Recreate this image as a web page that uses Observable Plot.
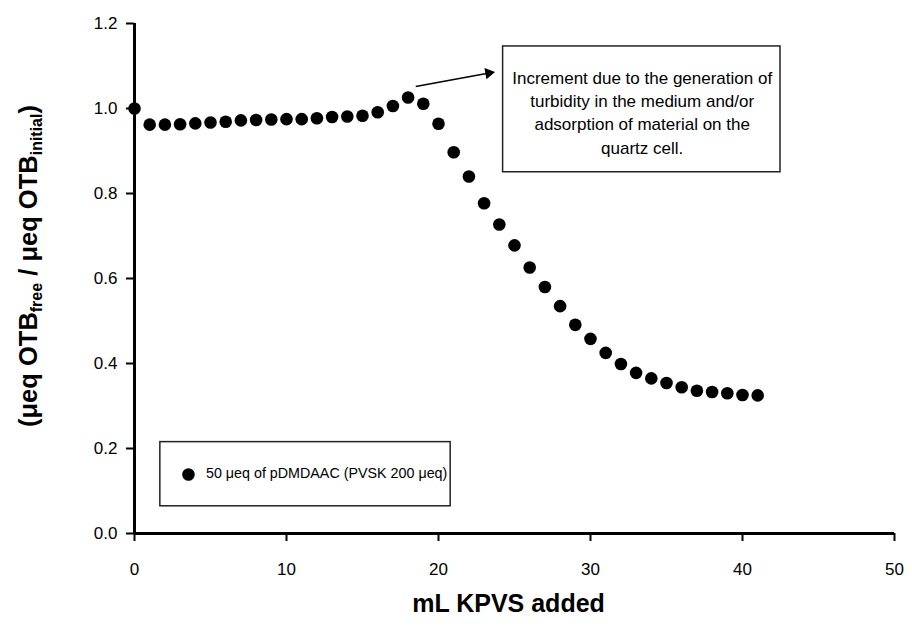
<!DOCTYPE html>
<html>
<head>
<meta charset="utf-8">
<script src="https://cdn.jsdelivr.net/npm/d3@7"></script>
<script src="https://cdn.jsdelivr.net/npm/@observablehq/plot@0.6"></script>
<style>
  html, body { margin: 0; padding: 0; background: #fff; }
  #chart { width: 912px; height: 628px; }
</style>
</head>
<body>
<div id="chart"></div>
<script>
// ---- data ----
const kpvsAdded = [0,1,2,3,4,5,6,7,8,9,10,11,12,13,14,15,16,17,18,19,20,21,22,23,24,25,26,27,28,29,30,31,32,33,34,35,36,37,38,39,40,41];
const otbRatio = [1.000,0.962,0.962,0.963,0.965,0.967,0.969,0.972,0.973,0.974,0.975,0.975,0.977,0.980,0.981,0.983,0.991,1.006,1.026,1.011,0.964,0.897,0.840,0.777,0.727,0.678,0.626,0.580,0.535,0.491,0.458,0.425,0.399,0.378,0.365,0.354,0.344,0.336,0.333,0.330,0.326,0.325];
const xTicks = [0,10,20,30,40,50];
const yTicks = [0,0.2,0.4,0.6,0.8,1.0,1.2];
const xTitle = "mL KPVS added";
const seriesLabel = "50 \u03bceq of pDMDAAC (PVSK 200 \u03bceq)";
const noteLines = ["Increment due to the generation of", "turbidity in the medium and/or", "adsorption of material on the", "quartz cell."];
// annotation placement in data units
const noteBox = [{x1: 24.25, x2: 42.5, y1: 0.85, y2: 1.146}];
const noteTextPos = [{x: 33.4, y: 0.993}];
const noteArrow = [{x1: 18.5, y1: 1.052, x2: 23.25, y2: 1.083}];
const noteArrowHead = [{x: 23.3, y: 1.0835}];
const legendBox = [{x1: 1.7, x2: 20.8, y1: 0.064, y2: 0.215}];
const legendDot = [{x: 3.55, y: 0.139}];
const legendText = [{x: 4.7, y: 0.141}];

const points = kpvsAdded.map((x, i) => ({x, y: otbRatio[i]}));

const sans = "'Liberation Sans', Arial, sans-serif";

const plot = Plot.plot({
  width: 912,
  height: 628,
  marginLeft: 134,
  marginRight: 18,
  marginTop: 23,
  marginBottom: 95,
  style: {fontFamily: sans, fontSize: "17px", color: "#000", background: "#fff"},
  x: {domain: [0, 50]},
  y: {domain: [0, 1.2]},
  marks: [
    Plot.axisX({ticks: xTicks, tickSize: 8, tickPadding: 21, strokeWidth: 2, fontSize: 17, label: null, tickFormat: d3.format("d")}),
    Plot.axisY({ticks: yTicks, tickSize: 8, tickPadding: 9, strokeWidth: 2, fontSize: 17, label: null, tickFormat: d3.format(".1f")}),
    Plot.ruleX([0], {stroke: "#000", strokeWidth: 3}),
    Plot.ruleY([0], {stroke: "#000", strokeWidth: 3}),
    Plot.rect(noteBox, {x1: "x1", x2: "x2", y1: "y1", y2: "y2", fill: "#fff", stroke: "#222", strokeWidth: 1.5}),
    Plot.text(noteTextPos, {x: "x", y: "y", text: () => noteLines.join("\n"), fontSize: 17, lineHeight: 1.36, fill: "#000"}),
    Plot.link(noteArrow, {x1: "x1", y1: "y1", x2: "x2", y2: "y2", stroke: "#000", strokeWidth: 1.5}),
    Plot.dot(noteArrowHead, {x: "x", y: "y", symbol: "triangle", r: 4.2, rotate: 80, fill: "#000", stroke: null}),
    Plot.rect(legendBox, {x1: "x1", x2: "x2", y1: "y1", y2: "y2", fill: "#fff", stroke: "#222", strokeWidth: 1.5}),
    Plot.dot(legendDot, {x: "x", y: "y", r: 6.3, fill: "#000", stroke: null}),
    Plot.text(legendText, {x: "x", y: "y", text: () => seriesLabel, textAnchor: "start", fontSize: 14.3, fill: "#000"}),
    Plot.dot(points, {x: "x", y: "y", r: 6.3, fill: "#000", stroke: null}),
    Plot.text([xTitle], {frameAnchor: "bottom", dy: 78, dx: -6, text: d => d, fontSize: 25, fontWeight: "bold", fill: "#000"})
  ]
});

document.getElementById("chart").appendChild(plot);

// y-axis title with subscripts
const svg = d3.select(plot);
const t = svg.append("text")
  .attr("transform", "translate(37,266) rotate(-90)")
  .attr("text-anchor", "middle")
  .attr("font-family", sans)
  .attr("font-weight", "bold")
  .attr("font-size", 25.5)
  .attr("fill", "#000");
t.append("tspan").text("(\u03bceq OTB");
t.append("tspan").attr("font-size", 16).attr("dy", 5).text("free");
t.append("tspan").attr("dy", -5).text(" / \u03bceq OTB");
t.append("tspan").attr("font-size", 16).attr("dy", 5).text("initial");
t.append("tspan").attr("dy", -5).text(")");
</script>
</body>
</html>
